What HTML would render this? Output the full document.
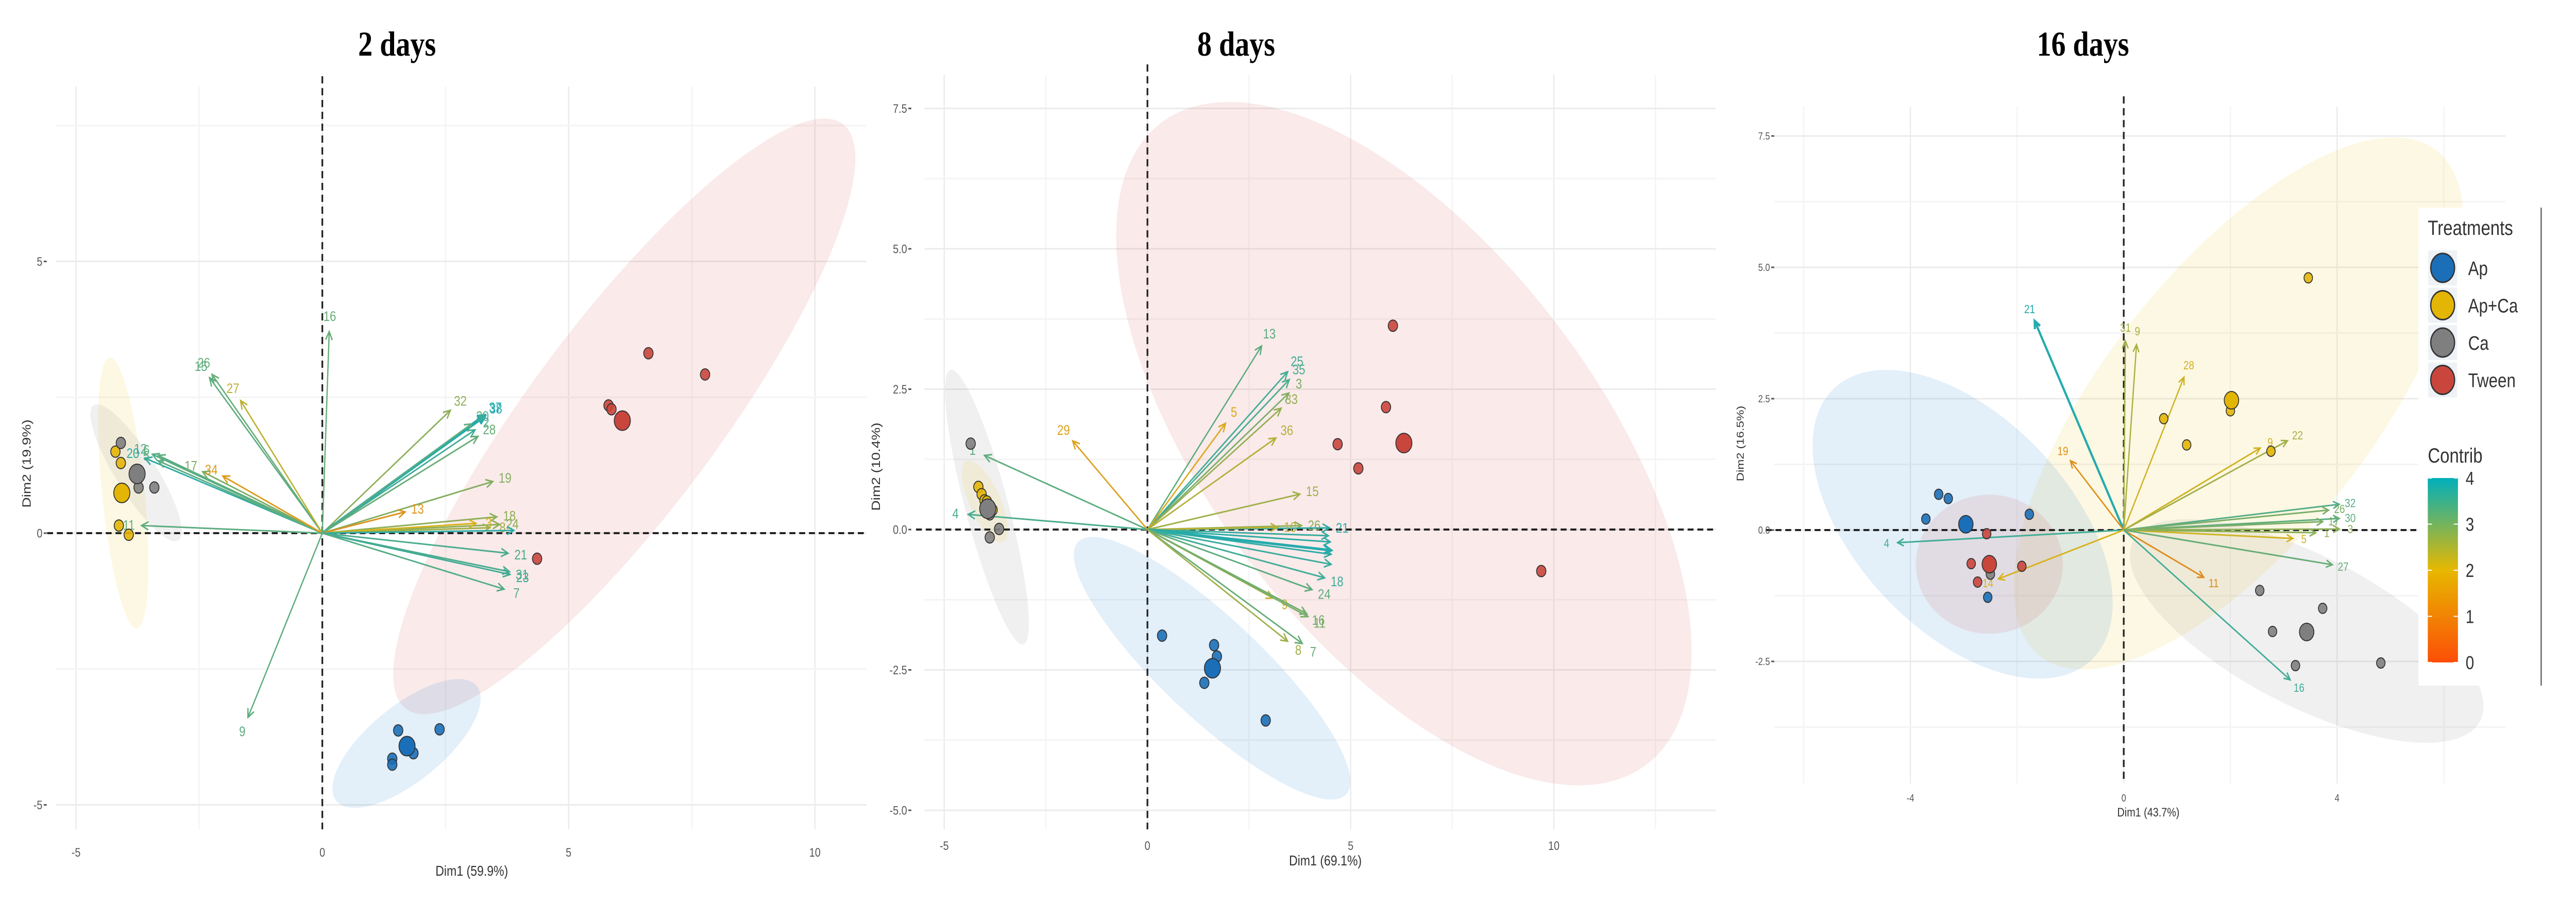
<!DOCTYPE html>
<html><head><meta charset="utf-8"><style>
html,body{margin:0;padding:0;background:#fff;width:100%;height:100%;overflow:hidden;}
svg{display:block;font-family:"Liberation Sans",sans-serif;overflow:hidden;position:absolute;left:0;top:0;width:100vw;height:100vh;}
</style></head><body>
<svg id="chart" viewBox="0 0 6066 1753" preserveAspectRatio="none" xmlns="http://www.w3.org/2000/svg">
<rect width="6066" height="1753" fill="#fff"/>
</svg>
<script>
// ---------- Panel 1 (2 days) data ----------
const p1VarNames=["16","26","15","27","12","20","6","5","17","34","11","9","32","37","38","30","2","28","19","13","18","24","3","8","","21","31","23","7"];
const p1VarX=[0.14,-2.24,-2.29,-1.66,-3.45,-3.6,-3.33,-3.33,-2.43,-2.02,-3.67,-1.51,2.6,3.29,3.3,3.03,3.1,3.16,3.46,1.68,3.54,3.6,3.12,3.4,3.89,3.77,3.8,3.81,3.69];
const p1VarY=[3.71,2.92,2.86,2.44,1.45,1.38,1.43,1.33,1.13,1.05,0.14,-3.39,2.26,2.17,2.15,2.01,1.9,1.78,0.95,0.39,0.3,0.16,0.18,0.1,0.05,-0.37,-0.71,-0.76,-1.03];
const p1VarC=[3.2,3.2,3.3,2.3,3.4,3.8,3.3,3.3,3.0,1.5,3.3,3.3,2.8,3.9,3.9,3.3,3.6,3.2,2.9,1.3,2.8,2.8,2.0,2.6,3.8,3.5,3.5,3.6,3.4];
const p1PtX=[6.62,7.77,5.81,5.87,4.36,1.54,2.38,1.42,1.42,1.85,-4.2,-4.09,-4.13,-3.93,-4.09,-3.73,-3.41,6.09,1.72,-4.07,-3.76];
const p1PtY=[3.31,2.92,2.35,2.28,-0.47,-3.63,-3.61,-4.15,-4.26,-4.05,1.5,1.29,0.14,-0.03,1.66,0.84,0.84,2.07,-3.92,0.74,1.09];
const p1PtG=["Tween","Tween","Tween","Tween","Tween","Ap","Ap","Ap","Ap","Ap","Ap+Ca","Ap+Ca","Ap+Ca","Ap+Ca","Ca","Ca","Ca","Tween","Ap","Ap+Ca","Ca"];
const p1PtBig=[0,0,0,0,0,0,0,0,0,0,0,0,0,0,0,0,0,1,1,1,1];
const p1XTicks=[-5,0,5,10];
const p1YTicks=[-5,0,5];

// ---------- Panel 2 (8 days) data ----------
const p2VarNames=["1","4","29","13","25","35","3","5","33","36","15","26","21","10","","","","","","18","24","9","16","11","7","8"];
const p2VarX=[-4.01,-4.41,-1.84,2.81,3.45,3.49,3.48,1.92,3.29,3.16,3.75,3.79,4.48,3.2,4.45,4.5,4.52,4.52,4.52,4.36,4.05,3.09,3.92,3.95,3.81,3.45];
const p2VarY=[1.32,0.27,1.58,3.27,2.81,2.67,2.43,1.89,2.16,1.63,0.63,0.07,0.03,0.04,-0.11,-0.22,-0.37,-0.44,-0.62,-0.86,-1.07,-1.22,-1.5,-1.55,-2.03,-1.99];
const p2VarC=[3.3,3.5,1.6,3.3,3.6,3.5,3.0,1.8,2.7,2.4,2.6,2.8,3.8,2.3,3.7,3.8,3.9,3.8,3.7,3.6,3.3,2.2,3.1,3.0,3.2,2.6];
const p2PtX=[6.04,5.87,4.68,5.19,9.69,0.36,1.64,1.71,1.4,2.91,-4.35,-3.88,-3.65,-3.88,-4.16,-4.08,-4.01,-3.95,-3.81,6.31,1.6,-3.93];
const p2PtY=[3.63,2.18,1.52,1.09,-0.74,-1.89,-2.06,-2.26,-2.73,-3.4,1.53,0.27,0.01,-0.14,0.76,0.63,0.52,0.5,0.35,1.54,-2.47,0.37];
const p2PtG=["Tween","Tween","Tween","Tween","Tween","Ap","Ap","Ap","Ap","Ap","Ca","Ca","Ca","Ca","Ap+Ca","Ap+Ca","Ap+Ca","Ap+Ca","Ap+Ca","Tween","Ap","Ca"];
const p2PtBig=[0,0,0,0,0,0,0,0,0,0,0,0,0,0,0,0,0,0,0,1,1,1];
const p2XTicks=[-5,0,5,10];
const p2YTicks=[-5,-2.5,0,2.5,5,7.5];

// ---------- Panel 3 (16 days) data ----------
const p3VarNames=["21","31","9","28","19","9","22","32","26","30","17","3","5","1","27","11","16","4","14"];
const p3VarX=[-1.67,0.03,0.24,1.13,-1.0,2.56,3.07,4.04,3.84,4.04,3.73,4.04,3.17,3.6,3.91,1.5,3.12,-4.24,-2.35];
const p3VarY=[3.98,3.6,3.53,2.91,1.32,1.56,1.7,0.49,0.38,0.22,0.16,0.02,-0.16,-0.05,-0.66,-0.9,-2.85,-0.24,-0.93];
const p3VarC=[3.9,2.6,2.5,2.1,1.2,2.1,2.6,3.4,3.0,3.3,3.0,2.8,2.1,2.8,3.2,1.1,3.6,3.6,2.0];
const p3PtX=[-3.47,-3.29,-3.71,-1.77,-2.55,-2.57,-2.86,-2.74,-1.91,-2.5,2.55,3.73,2.79,3.22,4.82,3.46,2.0,0.75,1.18,2.76,-2.96,-2.52,3.43,2.02];
const p3PtY=[0.68,0.6,0.21,0.3,-1.28,-0.07,-0.64,-0.99,-0.69,-0.84,-1.15,-1.49,-1.93,-2.58,-2.53,4.8,2.27,2.12,1.62,1.5,0.11,-0.65,-1.94,2.47];
const p3PtG=["Ap","Ap","Ap","Ap","Ap","Tween","Tween","Tween","Tween","Ca","Ca","Ca","Ca","Ca","Ca","Ap+Ca","Ap+Ca","Ap+Ca","Ap+Ca","Ap+Ca","Ap","Tween","Ca","Ap+Ca"];
const p3PtBig=[0,0,0,0,0,0,0,0,0,0,0,0,0,0,0,0,0,0,0,0,1,1,1,1];
const p3XTicks=[-4,0,4];
const p3YTicks=[-2.5,0,2.5,5,7.5];

const groupNames=["Ap","Ap+Ca","Ca","Tween"];
const contribTicks=[0,1,2,3,4];

const NS="http://www.w3.org/2000/svg";
const svg=document.getElementById("chart");
const groupFill={"Ap":"#1b6fb8","Ap+Ca":"#e3b505","Ca":"#7f7f7f","Tween":"#c9463d"};
const groupEll={"Ap":"rgba(40,130,210,0.13)","Ap+Ca":"rgba(240,200,40,0.13)","Ca":"rgba(140,140,140,0.13)","Tween":"rgba(220,90,90,0.13)"};

function mk(tag,attrs,parent){const e=document.createElementNS(NS,tag);for(const k in attrs)e.setAttribute(k,attrs[k]);(parent||svg).appendChild(e);return e;}
function hex(h){return [parseInt(h.substr(1,2),16),parseInt(h.substr(3,2),16),parseInt(h.substr(5,2),16)];}
function contribColor(c){
  const a=hex("#FC4E07"),b=hex("#E7B800"),t=hex("#00AFBB");
  let r;
  if(c<=2){const f=c/2;r=a.map((v,i)=>v+(b[i]-v)*f);}else{const f=Math.min(1,(c-2)/2);r=b.map((v,i)=>v+(t[i]-v)*f);}
  r=r.map(v=>Math.round(v*0.82+150*0.18));
  return "rgb("+r.join(",")+")";
}

function drawPanel(cfg){
  const sx=v=>cfg.ox+v*cfg.ux, sy=v=>cfg.oy-v*cfg.uy;
  const g=mk("g",{});
  
  
  cfg.gridX.forEach(v=>{const l=mk("line",{x1:sx(v),x2:sx(v),y1:cfg.gy1,y2:cfg.gy2,stroke:cfg.majorX.includes(v)?"#ebebeb":"#f4f4f4","stroke-width":3},g);
    });
  cfg.gridY.forEach(v=>{const l=mk("line",{x1:cfg.gx1,x2:cfg.gx2,y1:sy(v),y2:sy(v),stroke:cfg.majorY.includes(v)?"#ebebeb":"#f4f4f4","stroke-width":3},g);
    });
  cfg.ell.forEach(e=>{const el=mk("ellipse",{cx:0,cy:0,rx:e.rx,ry:e.ry,fill:groupEll[e.g],transform:`translate(${sx(e.x)},${sy(e.y)}) rotate(${e.a})`},g);
    });
  let zl=mk("line",{x1:cfg.gx1-20,x2:cfg.gx2,y1:sy(0),y2:sy(0),stroke:"#222","stroke-width":4,"stroke-dasharray":"14,9"},g);
  
  zl=mk("line",{x1:sx(0),x2:sx(0),y1:cfg.gy1-20,y2:cfg.gy2,stroke:"#222","stroke-width":4,"stroke-dasharray":"14,9"},g);
  
  cfg.xTicks.forEach(v=>{const t=mk("text",{x:sx(v),y:cfg.xLabY,"font-size":cfg.tickFs,fill:"#555","text-anchor":"middle"},g);t.textContent=v;
    });
  cfg.yTicks.forEach(v=>{const t=mk("text",{x:cfg.yLabX,y:sy(v)+cfg.tickFs*0.35,"font-size":cfg.tickFs,fill:"#555","text-anchor":"end"},g);t.textContent=cfg.yFmt(v);
    
    const m=mk("line",{x1:cfg.yLabX+3,x2:cfg.yLabX+10,y1:sy(v),y2:sy(v),stroke:"#555","stroke-width":3},g);
    });
  cfg.vx.forEach((vx,i)=>{
    const vy=cfg.vy[i], col=contribColor(cfg.vc[i]);
    const x1=sx(0),y1=sy(0),x2=sx(vx),y2=sy(vy);
    const ang=Math.atan2(y2-y1,x2-x1), h=cfg.head;
    const ag=mk("g",{},g);
    
    
    const sw=cfg.vc[i]>=3.85?5:3;
    mk("line",{x1,y1,x2,y2,stroke:col,"stroke-width":sw},ag);
    mk("polyline",{points:`${x2-h*Math.cos(ang-0.45)},${y2-h*Math.sin(ang-0.45)} ${x2},${y2} ${x2-h*Math.cos(ang+0.45)},${y2-h*Math.sin(ang+0.45)}`,fill:"none",stroke:col,"stroke-width":sw},ag);
    if(cfg.vn[i]){
      const t=mk("text",{x:x2+Math.cos(ang)*cfg.labOff,y:y2+Math.sin(ang)*cfg.labOff+cfg.labFs*0.35,"font-size":cfg.labFs,fill:col,"text-anchor":"middle"},ag);
      t.textContent=cfg.vn[i];
    }
  });
  cfg.px.forEach((x,i)=>{
    const c=mk("circle",{cx:sx(x),cy:sy(cfg.py[i]),r:cfg.pb[i]?cfg.rBig:cfg.rSmall,fill:groupFill[cfg.pg[i]],stroke:"#333","stroke-width":2,"fill-opacity":cfg.pb[i]?1:0.9},g);
    
    
  });
  let t=mk("text",{x:cfg.titleX,y:108,"font-size":68,"font-weight":"bold","font-family":"Liberation Serif, serif","text-anchor":"middle",fill:"#000"},g);
  t.textContent=cfg.title;
  t=mk("text",{x:cfg.d1X,y:cfg.d1Y,"font-size":cfg.axFs,"text-anchor":"middle",fill:"#333"},g);
  t.textContent=cfg.d1;
  t=mk("text",{x:cfg.d2X,y:cfg.d2Y,"font-size":cfg.axFs,"text-anchor":"middle",fill:"#333",transform:`rotate(-90 ${cfg.d2X} ${cfg.d2Y})`},g);
  t.textContent=cfg.d2;
}

drawPanel({name:"panel-2-days",title:"2 days",ox:759,ux:116,oy:1035,uy:105.5,gx1:131,gx2:2040,gy1:168,gy2:1610,
  gridX:[-5,-2.5,0,2.5,5,7.5,10],majorX:[-5,0,5,10],gridY:[-5,-2.5,0,2.5,5,7.5],majorY:[-5,0,5],
  xTicks:p1XTicks,yTicks:p1YTicks,yFmt:v=>String(v),xLabY:1663,yLabX:100,tickFs:24,
  vn:p1VarNames,vx:p1VarX,vy:p1VarY,vc:p1VarC,px:p1PtX,py:p1PtY,pg:p1PtG,pb:p1PtBig,
  head:18,labOff:30,labFs:27,rSmall:11,rBig:19,
  ell:[{g:"Tween",x:6.13,y:2.15,rx:767,ry:205,a:-47},{g:"Ap",x:1.71,y:-3.87,rx:200,ry:78,a:-32},
       {g:"Ap+Ca",x:-4.04,y:0.74,rx:265,ry:50,a:83},{g:"Ca",x:-3.78,y:1.11,rx:165,ry:45,a:52}],
  titleX:935,d1:"Dim1 (59.9%)",d1X:1111,d1Y:1700,d2:"Dim2 (19.9%)",d2X:72,d2Y:900,axFs:28});

drawPanel({name:"panel-8-days",title:"8 days",ox:2702,ux:95.7,oy:1028,uy:109,gx1:2177,gx2:4040,gy1:145,gy2:1610,
  gridX:[-5,-2.5,0,2.5,5,7.5,10,12.5],majorX:[-5,0,5,10],gridY:[-5,-3.75,-2.5,-1.25,0,1.25,2.5,3.75,5,6.25,7.5],majorY:[-5,-2.5,0,2.5,5,7.5],
  xTicks:p2XTicks,yTicks:p2YTicks,yFmt:v=>v.toFixed(1),xLabY:1650,yLabX:2136,tickFs:24,
  vn:p2VarNames,vx:p2VarX,vy:p2VarY,vc:p2VarC,px:p2PtX,py:p2PtY,pg:p2PtG,pb:p2PtBig,
  head:18,labOff:30,labFs:27,rSmall:11,rBig:19,
  ell:[{g:"Tween",x:6.31,y:1.53,rx:850,ry:420,a:44},{g:"Ap",x:1.59,y:-2.47,rx:400,ry:105,a:37},
       {g:"Ca",x:-3.95,y:0.4,rx:280,ry:50,a:72},{g:"Ap+Ca",x:-4.0,y:0.5,rx:90,ry:35,a:60}],
  titleX:2911,d1:"Dim1 (69.1%)",d1X:3121,d1Y:1680,d2:"Dim2 (10.4%)",d2X:2072,d2Y:906,axFs:28});

drawPanel({name:"panel-16-days",title:"16 days",ox:5001,ux:125.6,oy:1029,uy:102,gx1:4178,gx2:5901,gy1:207,gy2:1521,
  gridX:[-6,-4,-2,0,2,4,6],majorX:[-4,0,4],gridY:[-3.75,-2.5,-1.25,0,1.25,2.5,3.75,5,6.25,7.5],majorY:[-2.5,0,2.5,5,7.5],
  xTicks:p3XTicks,yTicks:p3YTicks,yFmt:v=>v.toFixed(1),xLabY:1556,yLabX:4168,tickFs:20,
  vn:p3VarNames,vx:p3VarX,vy:p3VarY,vc:p3VarC,px:p3PtX,py:p3PtY,pg:p3PtG,pb:p3PtBig,
  head:16,labOff:26,labFs:23,rSmall:10,rBig:17,
  ell:[{g:"Ap+Ca",x:2.15,y:2.41,rx:680,ry:290,a:-44},{g:"Ap",x:-3.02,y:0.11,rx:405,ry:225,a:36},
       {g:"Tween",x:-2.52,y:-0.65,rx:173,ry:135,a:0},{g:"Ca",x:3.43,y:-1.92,rx:445,ry:150,a:22}],
  titleX:4905,d1:"Dim1 (43.7%)",d1X:5059,d1Y:1585,d2:"Dim2 (16.5%)",d2X:4106,d2Y:861,axFs:24});

(function(){
  const lg=mk("g",{});
  
  
  mk("rect",{x:5695,y:403,width:289,height:928,fill:"#fff"},lg);
  mk("line",{x1:5984,x2:5984,y1:403,y2:1331,stroke:"#666","stroke-width":3},lg);
  let t=mk("text",{x:5717,y:456,"font-size":40,fill:"#333"},lg);t.textContent="Treatments";
  
  groupNames.forEach((gname,i)=>{
    const y=520+i*72.5;
    const e=mk("g",{},lg);
    
    
    mk("rect",{x:5718,y:y-34,width:68,height:68,fill:"#eef2f6"},e);
    mk("circle",{cx:5752,cy:y,r:28,fill:groupFill[gname],stroke:"#333","stroke-width":3},e);
    const tx=mk("text",{x:5812,y:y+14,"font-size":38,fill:"#333"},e);tx.textContent=gname;
  });
  t=mk("text",{x:5717,y:898,"font-size":40,fill:"#333"},lg);t.textContent="Contrib";
  
  const defs=mk("defs",{},lg);
  const gr=mk("linearGradient",{id:"cg",x1:0,y1:1,x2:0,y2:0},defs);
  [[0,"#FC4E07"],[0.5,"#E7B800"],[1,"#00AFBB"]].forEach(s=>mk("stop",{offset:s[0],"stop-color":s[1]},gr));
  const bar=mk("rect",{x:5717,y:928,width:71,height:358,fill:"url(#cg)"},lg);
  
  contribTicks.forEach(v=>{
    const y=1286-v*(358/4);
    mk("line",{x1:5717,x2:5727,y1:y,y2:y,stroke:"#fff","stroke-width":2},lg);
    mk("line",{x1:5778,x2:5788,y1:y,y2:y,stroke:"#fff","stroke-width":2},lg);
    const tx=mk("text",{x:5806,y:y+13,"font-size":36,fill:"#333"},lg);tx.textContent=v;
    
  });
})();
</script>
</body></html>
